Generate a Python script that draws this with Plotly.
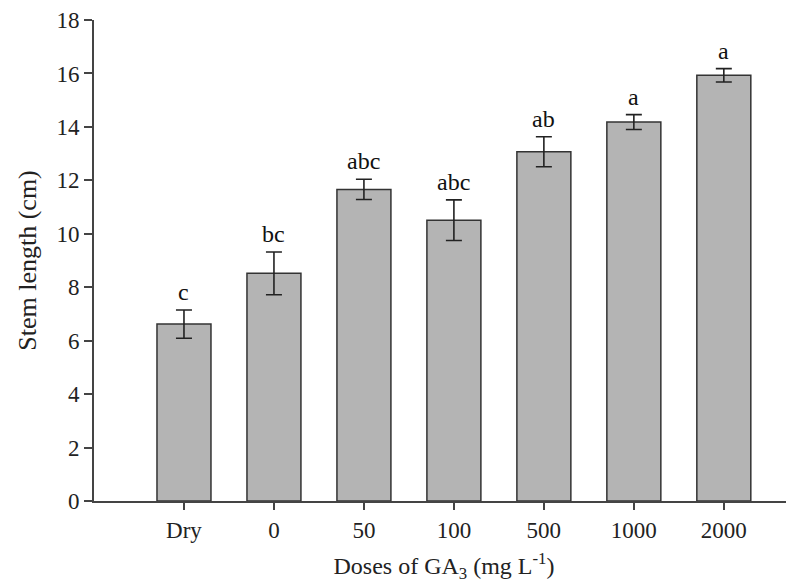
import plotly.graph_objects as go

categories = ["Dry", "0", "50", "100", "500", "1000", "2000"]
stem_length = [6.62, 8.52, 11.66, 10.51, 13.07, 14.18, 15.93]
std_error = [0.53, 0.80, 0.38, 0.76, 0.56, 0.28, 0.25]
letters = ["c", "bc", "abc", "abc", "ab", "a", "a"]
y_ticks = [0, 2, 4, 6, 8, 10, 12, 14, 16, 18]

FONT = "Liberation Serif"
AX = "#444444"

fig = go.Figure()
fig.add_trace(go.Bar(
    x=categories, y=stem_length, width=0.6,
    marker=dict(color="#b4b4b4", line=dict(color="#333333", width=1.5)),
    error_y=dict(type="data", array=std_error, visible=True,
                 color="#222222", thickness=1.6, width=8),
    showlegend=False,
))

for i, (v, e, t) in enumerate(zip(stem_length, std_error, letters)):
    fig.add_annotation(x=i, y=v + e, text=t, showarrow=False,
                       xref="x", yref="y",
                       yanchor="bottom", yshift=3,
                       font=dict(family=FONT, size=24, color="#111111"))

fig.update_layout(
    width=786, height=575,
    margin=dict(l=86, r=0, t=12, b=82, autoexpand=False),
    plot_bgcolor="white", paper_bgcolor="white",
    font=dict(family=FONT, color="#222222"),
    xaxis=dict(
        type="category", range=[-1, 6.78], automargin=False,
        showline=True, linecolor=AX, linewidth=2,
        ticks="outside", ticklen=7, tickwidth=2, tickcolor=AX,
        tickfont=dict(family=FONT, size=23, color="#222222"),
        showgrid=False, zeroline=False,
        title=dict(text="Doses of GA<sub>3</sub> (mg L<sup>-1</sup>)",
                   font=dict(family=FONT, size=24, color="#222222"), standoff=16),
    ),
    yaxis=dict(
        range=[0, 18], tickvals=y_ticks, automargin=False,
        showline=True, linecolor=AX, linewidth=2,
        ticks="outside", ticklen=8, tickwidth=2, tickcolor=AX,
        tickfont=dict(family=FONT, size=23, color="#222222"),
        showgrid=False, zeroline=False,
        title=dict(text="Stem length (cm)",
                   font=dict(family=FONT, size=26, color="#222222"), standoff=12),
    ),
)

fig.write_html("out.html")
